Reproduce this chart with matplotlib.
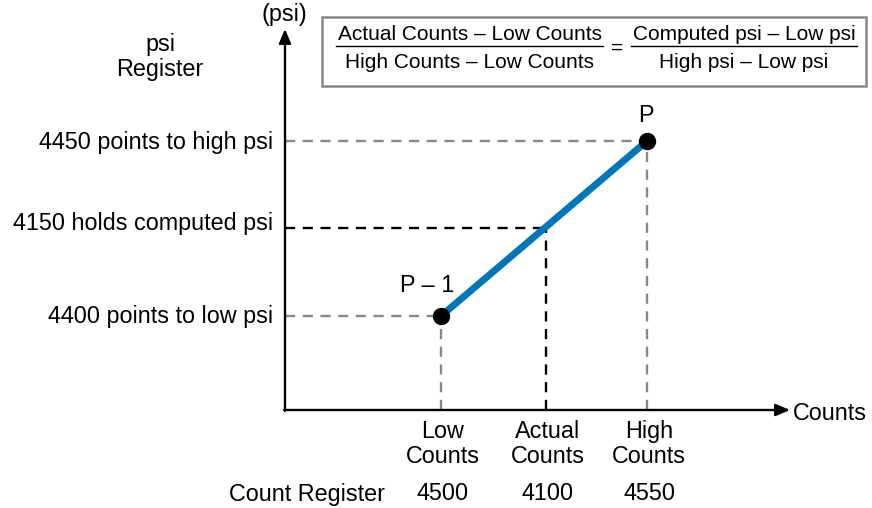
import matplotlib
matplotlib.use("Agg")
import matplotlib.pyplot as plt
from matplotlib.transforms import Affine2D
from matplotlib.patches import Rectangle

plt.rcParams['font.family'] = ['Liberation Sans', 'DejaVu Sans']

# ---- data ----
count_labels = ["Low\nCounts", "Actual\nCounts", "High\nCounts"]
count_register = ["4500", "4100", "4550"]
count_pos = [1.0, 1.51, 2.0]          # low, actual, high counts (chart units)
psi_labels = ["4450 points to high psi", "4150 holds computed psi", "4400 points to low psi"]
psi_pos = [2.0, 1.503, 1.0]           # high, computed, low psi (chart units)
point_labels = ["P \u2013 1", "P"]
eq_num_left = "Actual Counts \u2013 Low Counts"
eq_den_left = "High Counts \u2013 Low Counts"
eq_num_right = "Computed psi \u2013 Low psi"
eq_den_right = "High psi \u2013 Low psi"

W, H = 872, 508
fig = plt.figure(figsize=(W / 100, H / 100), dpi=100)
ax = fig.add_axes([0, 0, 1, 1])
ax.set_axis_off()

# map chart units: x=1 -> px 441, x=2 -> px 647 ; y=1 -> px 316, y=2 -> px 141
xs, ys = 206.0, 175.0
ax.set_xlim(1 - 441 / xs, 1 + (W - 441) / xs)
ax.set_ylim(1 - (H - 316) / ys, 1 + 316 / ys)
x0 = 1 + (285 - 441) / xs   # origin
y0 = 1 - (410 - 316) / ys

# pixel transform (from top-left) for layout text
px = Affine2D().scale(1 / W, -1 / H).translate(0, 1) + fig.transFigure

FS = 16.8
gray = "#888888"

# axes arrows
aprops = dict(arrowstyle="-|>,head_length=0.85,head_width=0.36", color="black", lw=1.7, shrinkA=0, shrinkB=0)
ax.annotate("", xy=(285, 29), xytext=(285, 411), xycoords=px, textcoords=px, arrowprops=aprops)
ax.annotate("", xy=(790, 410), xytext=(284, 410), xycoords=px, textcoords=px, arrowprops=aprops)

low_x, act_x, high_x = count_pos
high_y, comp_y, low_y = psi_pos

# gray dashed guides
dash = dict(color=gray, lw=1.7, dashes=(4.3, 3.2))
ax.plot([x0, high_x], [high_y, high_y], **dash)
ax.plot([x0, low_x], [low_y, low_y], **dash)
ax.plot([high_x, high_x], [y0, high_y], **dash)
ax.plot([low_x, low_x], [y0, low_y], **dash)
# black dashed guides
bdash = dict(color="black", lw=1.7, dashes=(4.3, 3.2))
ax.plot([x0, act_x], [comp_y, comp_y], **bdash)
ax.plot([act_x, act_x], [y0, comp_y], **bdash)

# blue line and points
ax.plot([low_x, high_x], [low_y, high_y], color="#0077BB", lw=5.0, solid_capstyle="butt", zorder=3)
ax.plot([low_x, high_x], [low_y, high_y], "o", color="black", ms=11.5, zorder=4)

ax.text(low_x - 14 / xs, low_y + 30 / ys, point_labels[0], fontsize=FS, ha="center", va="center")
ax.text(high_x - 1 / xs, high_y + 25 / ys, point_labels[1], fontsize=FS, ha="center", va="center")

# y labels
for lab, yv in zip(psi_labels, psi_pos):
    off = 4 / ys if lab.startswith("4150") else -1 / ys
    ax.text(x0 - 12 / xs, yv + off, lab, fontsize=FS, ha="right", va="center")

# x labels
for lab, xv in zip(count_labels, count_pos):
    ax.text(xv + 2 / xs, y0 - 34 / ys, lab, fontsize=FS, ha="center", va="center", linespacing=1.1)
for lab, xv in zip(count_register, count_pos):
    ax.text(xv + 2 / xs, y0 - 84 / ys, lab, fontsize=FS, ha="center", va="center")
ax.text(307, 494, "Count Register", transform=px, fontsize=FS, ha="center", va="center")

# axis titles
ax.text(284, 15, "(psi)", transform=px, fontsize=FS, ha="center", va="center")
ax.text(793, 414, "Counts", transform=px, fontsize=FS, ha="left", va="center")
ax.text(160, 57, "psi\nRegister", transform=px, fontsize=FS, ha="center", va="center", linespacing=1.1)

# equation box
ax.add_patch(Rectangle((322, 17), 544, 69, transform=px, fill=False, edgecolor=gray, lw=1.8))
EFS = 15
ax.text(469.5, 34, eq_num_left, transform=px, fontsize=EFS, ha="center", va="center")
ax.text(469.5, 62, eq_den_left, transform=px, fontsize=EFS, ha="center", va="center")
ax.plot([336, 603], [46, 46], transform=px, color="black", lw=1.0)
ax.text(617, 48, "=", transform=px, fontsize=EFS, ha="center", va="center")
ax.text(744, 34, eq_num_right, transform=px, fontsize=EFS, ha="center", va="center")
ax.text(744, 62, eq_den_right, transform=px, fontsize=EFS, ha="center", va="center")
ax.plot([631, 857], [46, 46], transform=px, color="black", lw=1.0)

fig.savefig("out.png", dpi=100)
